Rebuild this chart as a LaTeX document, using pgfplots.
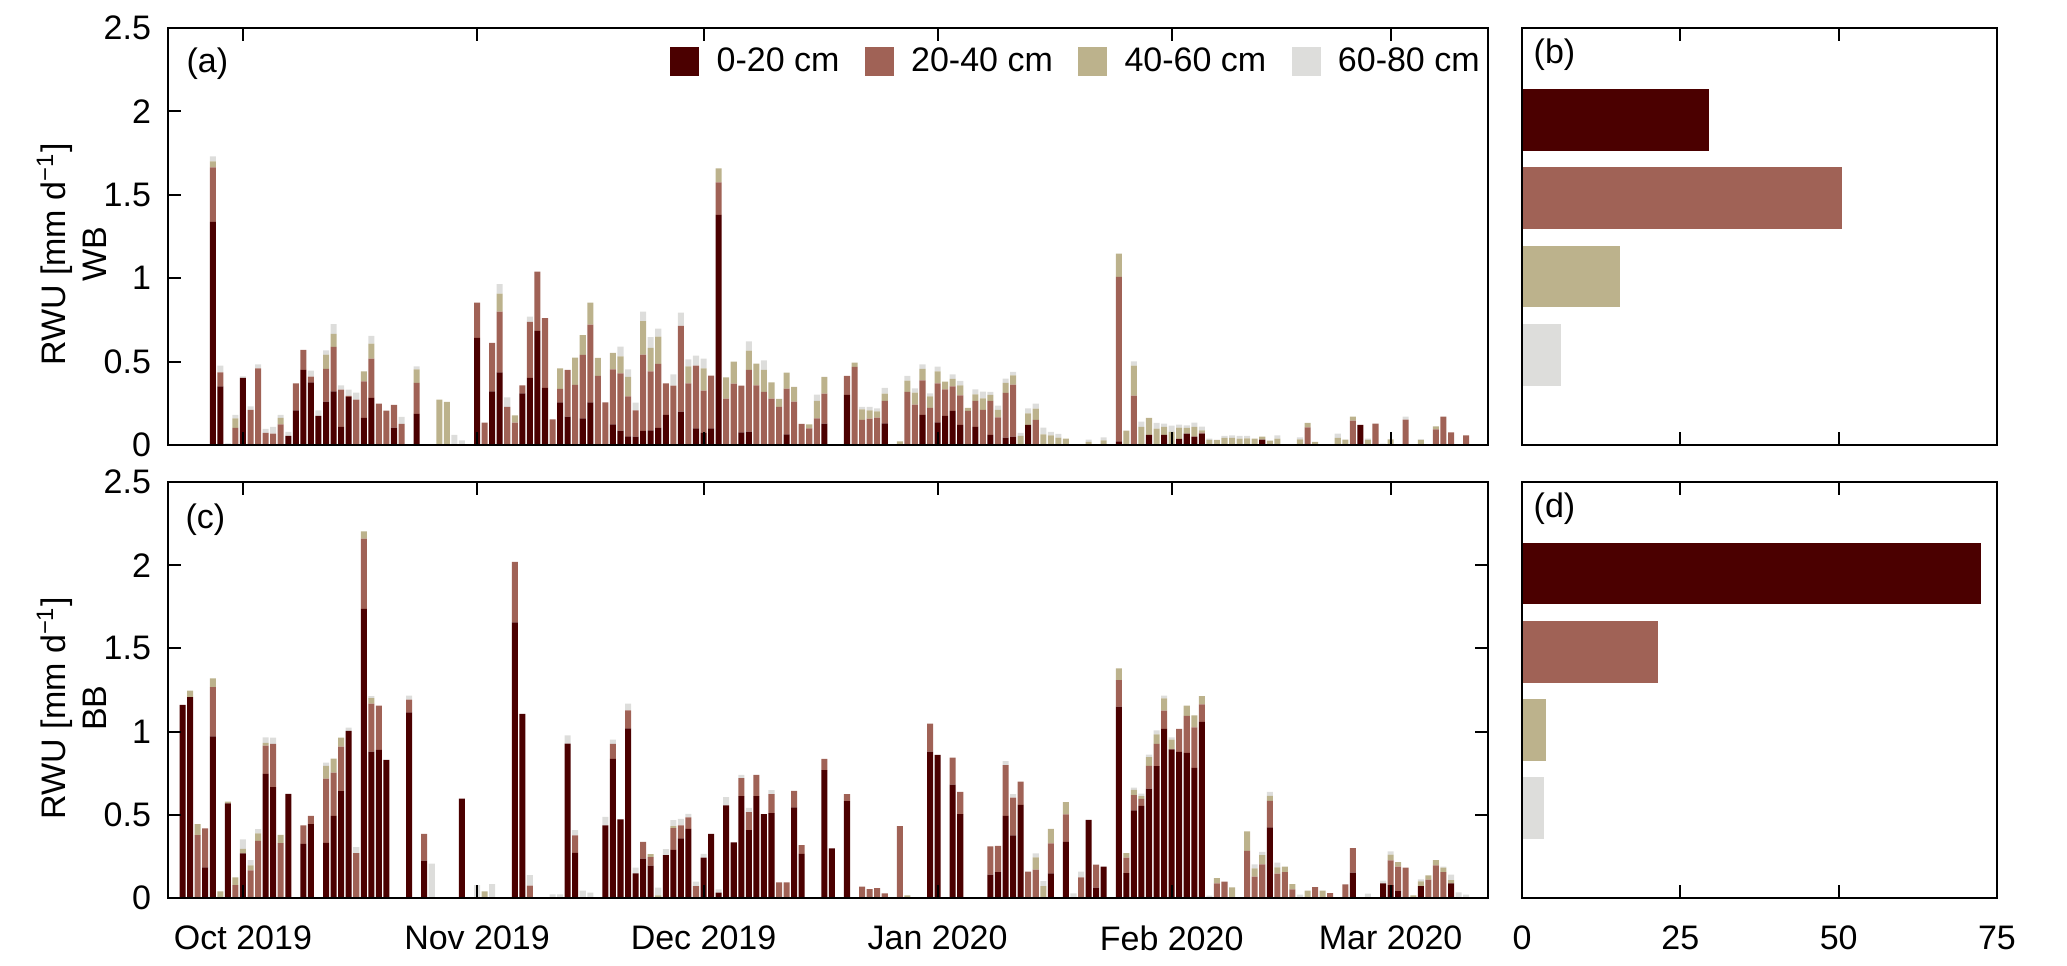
\documentclass[border=0pt]{standalone}
\usepackage{fontspec}
\setmainfont{Liberation Sans}
\usepackage{pgfplots}
\usepackage{pgfplotstable}
\pgfplotsset{compat=1.18}
\definecolor{cA}{HTML}{4B0000}
\definecolor{cB}{HTML}{A06256}
\definecolor{cC}{HTML}{BCB28C}
\definecolor{cD}{HTML}{DDDDDB}

\pgfplotstableread{
d a b c e
-4 1.338 0.326 0.036 0.030
-3 0.352 0.084 0 0.040
-2 0 0 0 0.010
-1 0 0.102 0.058 0.020
0 0.402 0 0 0.010
1 0 0.210 0 0.022
2 0 0.460 0 0.024
3 0 0.072 0 0.024
4 0 0.068 0 0.040
5 0 0.124 0.038 0.018
6 0.054 0 0 0.024
7 0.208 0.162 0 0
8 0.450 0.120 0 0
9 0.376 0.034 0 0.036
10 0.174 0 0 0.034
11 0.260 0.196 0.086 0.026
12 0.322 0.266 0.078 0.058
13 0.108 0.224 0 0.026
14 0.288 0.006 0 0.038
15 0 0.272 0 0.042
16 0.162 0.220 0.060 0
17 0.282 0.236 0.090 0.046
18 0 0.248 0 0
19 0 0.206 0 0
20 0.104 0.136 0 0
21 0 0.126 0 0.042
23 0.186 0.186 0.082 0.018
26 0 0 0.272 0
27 0 0 0.258 0
28 0 0 0 0.060
29 0 0 0 0.028
31 0.642 0.212 0 0
32 0 0.134 0 0
33 0.322 0.290 0 0
34 0.436 0.364 0.108 0.056
35 0 0.228 0 0.058
36 0 0.134 0.044 0
37 0.310 0.048 0 0
38 0.402 0.336 0 0.032
39 0.684 0.356 0 0
40 0.342 0.418 0 0
41 0 0.154 0 0
42 0.256 0.080 0.124 0
43 0.170 0.280 0 0
44 0 0.360 0.164 0
45 0.160 0.380 0.118 0
46 0.256 0.466 0.132 0
47 0 0.414 0.108 0
48 0 0.256 0 0
49 0.124 0.330 0.098 0
50 0.086 0.344 0.102 0.058
51 0.052 0.240 0.116 0.046
52 0.050 0.158 0 0.046
53 0.084 0.458 0.200 0.058
54 0.088 0.354 0.140 0.064
55 0.102 0.384 0.164 0.048
56 0.180 0.190 0 0
57 0 0.356 0 0.068
58 0.200 0.514 0 0.080
59 0 0.370 0.102 0.042
60 0.100 0.376 0 0.060
61 0.072 0.254 0.134 0.058
62 0.100 0.316 0 0
63 1.380 0.194 0.084 0
64 0 0.278 0.128 0
65 0 0.368 0.132 0
66 0.076 0.280 0 0
67 0.080 0.370 0.116 0.056
68 0 0.358 0.130 0
69 0 0.318 0.132 0.058
70 0 0.278 0.098 0
71 0 0.228 0.048 0
72 0.064 0.274 0.096 0
73 0 0.260 0.088 0
74 0 0.126 0 0
75 0 0.100 0.024 0
76 0 0.160 0.104 0.038
77 0.128 0.180 0.100 0
80 0.300 0.114 0 0
81 0 0.468 0.026 0
82 0 0.150 0.064 0.014
83 0 0.158 0.050 0.020
84 0 0.164 0.038 0.018
85 0.130 0.134 0.044 0.034
87 0 0 0.022 0
88 0 0.318 0.068 0.028
89 0 0.242 0.072 0.026
90 0.180 0.208 0.068 0.028
91 0 0.222 0.070 0.018
92 0.136 0.234 0.072 0.028
93 0.174 0.160 0.046 0
94 0.204 0.148 0.044 0.028
95 0.120 0.178 0.060 0.026
96 0 0.204 0.018 0
97 0.108 0.156 0.040 0.030
98 0 0.210 0.070 0.040
99 0.060 0.204 0.036 0.018
100 0 0.166 0.044 0.026
101 0.044 0.268 0.060 0.026
102 0.050 0.312 0.056 0.020
103 0 0 0.054 0.018
104 0.120 0 0.070 0.030
105 0 0.150 0.068 0.030
106 0 0 0.064 0.040
107 0 0 0.058 0.020
108 0 0 0.044 0.022
109 0 0 0.038 0
112 0 0 0.018 0.014
113 0 0 0 0.005
114 0 0 0.028 0.018
116 0.022 0.986 0.140 0
117 0 0 0.086 0
118 0 0.296 0.180 0.026
119 0 0 0.108 0.032
120 0.060 0 0.102 0
121 0 0 0.098 0.034
122 0.060 0 0.048 0.020
123 0 0 0.078 0.038
124 0.036 0 0.068 0.018
125 0.068 0 0.034 0.016
126 0.050 0 0.058 0.026
127 0.068 0.006 0.014 0.022
128 0 0 0.030 0.008
129 0 0 0.030 0
130 0 0 0.042 0.012
131 0 0 0.042 0.016
132 0 0 0.038 0.016
133 0 0 0.040 0.014
134 0 0 0.038 0
135 0.032 0 0.018 0
136 0 0 0.026 0
137 0 0 0.038 0.020
139 0 0 0 0.004
140 0 0 0.034 0.012
141 0 0.106 0.026 0
142 0 0 0.018 0
145 0 0 0.042 0.026
146 0 0 0.032 0
147 0 0.146 0.024 0
148 0.120 0 0 0
149 0 0 0.030 0.008
150 0 0.128 0 0
151 0 0 0 0.008
152 0 0 0.034 0
154 0 0.152 0 0.018
156 0 0 0.030 0.004
157 0 0 0 0.004
158 0 0.094 0.018 0
159 0 0.170 0 0
160 0 0.076 0 0
162 0 0.058 0 0
}\wb

\pgfplotstableread{
d a b c e
-8 1.160 0 0 0
-7 1.208 0 0.038 0
-6 0 0.378 0.066 0
-5 0.184 0.234 0 0
-4 0.972 0.296 0.052 0
-3 0 0 0.040 0
-2 0.568 0 0.012 0
-1 0 0.078 0.046 0
0 0.268 0 0.028 0.056
1 0 0.166 0.030 0.032
2 0 0.344 0.044 0.026
3 0.746 0.170 0.016 0.034
4 0.666 0.260 0 0.038
5 0 0.330 0.050 0
6 0.626 0 0 0
8 0.326 0.110 0 0
9 0.444 0.050 0 0
11 0.332 0.386 0.076 0.020
12 0.494 0.260 0.084 0
13 0.642 0.268 0.054 0
14 1.004 0 0 0.020
15 0 0.270 0 0.036
16 1.738 0.422 0.044 0
17 0.880 0.288 0.034 0.012
18 0.890 0.266 0 0
19 0.830 0 0 0
20 0 0 0 0.006
22 1.116 0.076 0 0.024
24 0.224 0.162 0 0
25 0 0 0 0.206
29 0.598 0 0 0
31 0 0 0 0.078
32 0 0 0.040 0
33 0 0 0 0.084
36 1.656 0.364 0 0
37 1.106 0 0 0
38 0 0.074 0 0.064
41 0 0 0 0.022
42 0 0 0 0.022
43 0.928 0 0 0.050
44 0.272 0.104 0 0.032
45 0 0 0 0.044
46 0 0 0 0.032
48 0.436 0 0 0.052
49 0.836 0.090 0 0.026
50 0.472 0 0 0
51 1.020 0.108 0 0.040
52 0.148 0 0 0.034
53 0.236 0.102 0 0
54 0.194 0.052 0.018 0
55 0 0 0.016 0.046
56 0.258 0 0 0.036
57 0.290 0.130 0.012 0.036
58 0.358 0.078 0 0.040
59 0.416 0.068 0 0.022
60 0 0.072 0 0.026
61 0.242 0 0 0.024
62 0.386 0 0 0
63 0.032 0 0 0.020
64 0.556 0 0 0.050
65 0.334 0 0 0
66 0.612 0.108 0 0.020
67 0.408 0.108 0 0.026
68 0.612 0.128 0 0
69 0.504 0 0 0
70 0.510 0.114 0 0.024
71 0 0.094 0 0
72 0 0.094 0 0
73 0.544 0.100 0 0
74 0.266 0.052 0 0
77 0.768 0.068 0 0
78 0.298 0 0 0
80 0.582 0.042 0 0
82 0 0.068 0 0
83 0 0.054 0 0
84 0 0.060 0 0
85 0 0.028 0 0
87 0 0.432 0 0
88 0 0 0.016 0
91 0.880 0.168 0 0
92 0.860 0 0 0
94 0.682 0.162 0 0
95 0.504 0.134 0 0
99 0.140 0.170 0 0
100 0.156 0.158 0 0
101 0.494 0.304 0 0.024
102 0.376 0.228 0 0.020
103 0.560 0.140 0 0
104 0 0.158 0 0
105 0 0.170 0.074 0.024
106 0 0 0.072 0.030
107 0.148 0.180 0.088 0
109 0.338 0.164 0.074 0
110 0 0 0 0.028
111 0 0.124 0 0.034
112 0.470 0 0 0
113 0.062 0.138 0 0
114 0.188 0 0 0
116 1.150 0.160 0.070 0
117 0.150 0.092 0.028 0
118 0.526 0.092 0.032 0.014
119 0.554 0.042 0.016 0.016
120 0.658 0.136 0.052 0.016
121 0.792 0.134 0.058 0.024
122 1.016 0.110 0.074 0.016
123 0.894 0 0.058 0.014
124 0.878 0.138 0 0
125 0.872 0.222 0.062 0
126 0.782 0.244 0.072 0
127 1.058 0.106 0.050 0
128 0 0 0 0.014
129 0 0.088 0.032 0
130 0 0.098 0 0
131 0 0 0.064 0
133 0 0.284 0.116 0
134 0 0.128 0.050 0.024
135 0 0.202 0.056 0.020
136 0.424 0.160 0.030 0.024
137 0 0.146 0.038 0.028
138 0 0.156 0.032 0
139 0 0.052 0.032 0
140 0 0 0 0.020
141 0 0 0.044 0
142 0 0.066 0 0
143 0 0 0.044 0
144 0 0.030 0 0
146 0 0.082 0 0
147 0.152 0.148 0 0
149 0 0 0 0.026
151 0.088 0 0 0.016
152 0.078 0.148 0.034 0.020
153 0.042 0.146 0.028 0
154 0 0.182 0 0
155 0 0 0.016 0
156 0.072 0 0.028 0.012
157 0 0.110 0.026 0
158 0 0.196 0.032 0
159 0 0.156 0.026 0.006
160 0.088 0 0.020 0.032
161 0 0 0 0.034
162 0 0 0 0.020
}\bb

\pgfplotsset{
  base/.style={
    scale only axis, axis on top, tick align=inside,
    major tick length=3.8pt,
    axis line style={line width=0.6pt, black},
    major tick style={line width=0.6pt, black},
    /pgf/number format/assume math mode=true,
    tick label style={font=\fontsize{10.2pt}{12pt}\selectfont},
    xticklabel style={yshift=-4.8pt},
    yticklabel style={xshift=-1.5pt},
  },
  timeline/.style={
    base, width=396pt, xmin=-9.93, xmax=164.9, ymin=0, ymax=2.5,
    ybar stacked, bar width=0.8,
    xtick={0,31,61,92,123,152}, xtick pos=both, xticklabel pos=bottom,
    ytick={0,0.5,1,1.5,2,2.5}, yticklabels={0,0.5,1,1.5,2,2.5},
    ylabel style={align=center, at={(axis description cs:-0.0731,0.4567)}, anchor=center},
  },
  share/.style={
    base, width=142.5pt, xmin=0, xmax=75, ymin=-0.15, ymax=5.17,
    xbar, bar width=0.79, bar shift=0pt,
    ytick=\empty, xtick={0,25,50,75}, xtick pos=both, xticklabel pos=bottom,
  },
  sqlegend/.style={legend image code/.code={\fill[##1] (0pt,-4.35pt) rectangle (8.7pt,4.35pt);}},
}

\begin{document}
\fontsize{10.2pt}{12.3pt}\selectfont
\begin{tikzpicture}
\useasboundingbox (0,0) rectangle (620.1pt,289.5pt);

% (a)
\begin{axis}[timeline, at={(50.4pt,156pt)}, anchor=south west, height=125.1pt,
  xticklabels={}, ytick pos=left,
  ylabel={RWU [mm d\textsuperscript{−1}]\\WB},
  legend columns=4,
  legend style={at={(1,0.9185)}, anchor=east, xshift=-0.3pt, draw=none, fill=none, inner sep=0pt,
    font=\fontsize{10.2pt}{12pt}\selectfont,
    /tikz/every odd column/.append style={column sep=3.2pt},
    /tikz/every even column/.append style={column sep=5.6pt}},
  legend cell align=left]
\addplot[fill=cA, draw=none, sqlegend] table[x=d, y=a] {\wb};
\addplot[fill=cB, draw=none, sqlegend] table[x=d, y=b] {\wb};
\addplot[fill=cC, draw=none, sqlegend] table[x=d, y=c] {\wb};
\addplot[fill=cD, draw=none, sqlegend] table[x=d, y=e] {\wb};
\legend{0-20 cm, 20-40 cm, 40-60 cm, 60-80 cm}
\node[anchor=north west, inner sep=0pt] at (rel axis cs:0,1) [xshift=5.4pt, yshift=-5.7pt] {(a)};
\end{axis}

% (c)
\begin{axis}[timeline, at={(50.4pt,20.1pt)}, anchor=south west, height=124.8pt,
  xticklabels={Oct 2019, Nov 2019, Dec 2019, Jan 2020, Feb 2020, Mar 2020},
  ytick pos=both, yticklabel pos=left,
  ylabel={RWU [mm d\textsuperscript{−1}]\\BB}]
\addplot[fill=cA, draw=none] table[x=d, y=a] {\bb};
\addplot[fill=cB, draw=none] table[x=d, y=b] {\bb};
\addplot[fill=cC, draw=none] table[x=d, y=c] {\bb};
\addplot[fill=cD, draw=none] table[x=d, y=e] {\bb};
\node[anchor=north west, inner sep=0pt] at (rel axis cs:0,1) [xshift=5.1pt, yshift=-6.3pt] {(c)};
\end{axis}

% (b)
\begin{axis}[share, at={(456.6pt,156pt)}, anchor=south west, height=125.1pt, xticklabels={}]
\addplot[fill=cA, draw=none] coordinates {(29.5,4)};
\addplot[fill=cB, draw=none] coordinates {(50.5,3)};
\addplot[fill=cC, draw=none] coordinates {(15.5,2)};
\addplot[fill=cD, draw=none] coordinates {(6.2,1)};
\node[anchor=north west, inner sep=0pt] at (rel axis cs:0,1) [xshift=3.3pt, yshift=-3.0pt] {(b)};
\end{axis}

% (d)
\begin{axis}[share, at={(456.6pt,20.1pt)}, anchor=south west, height=124.8pt]
\addplot[fill=cA, draw=none] coordinates {(72.5,4)};
\addplot[fill=cB, draw=none] coordinates {(21.5,3)};
\addplot[fill=cC, draw=none] coordinates {(3.8,2)};
\addplot[fill=cD, draw=none] coordinates {(3.4,1)};
\node[anchor=north west, inner sep=0pt] at (rel axis cs:0,1) [xshift=3.3pt, yshift=-3.0pt] {(d)};
\end{axis}
\end{tikzpicture}
\end{document}
